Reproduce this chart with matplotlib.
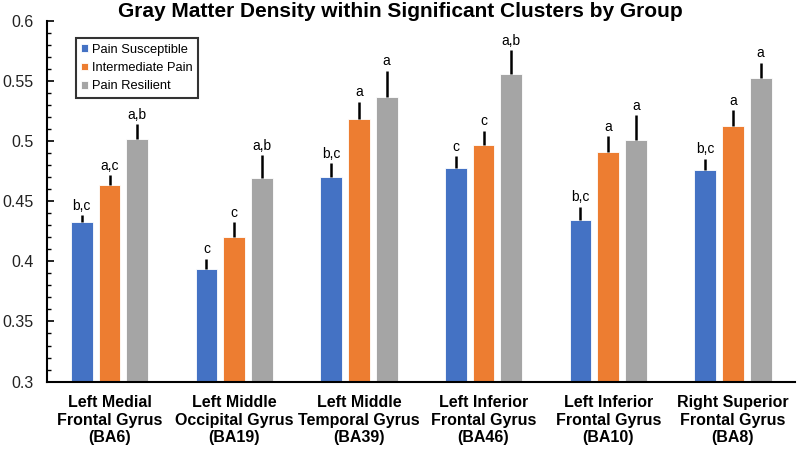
import matplotlib
matplotlib.use("Agg")
import matplotlib.pyplot as plt
import numpy as np
from matplotlib.ticker import MultipleLocator

plt.rcParams['font.family'] = ['Liberation Sans', 'DejaVu Sans']

categories = ["Left Medial\nFrontal Gyrus\n(BA6)", "Left Middle\nOccipital Gyrus\n(BA19)",
              "Left Middle\nTemporal Gyrus\n(BA39)", "Left Inferior\nFrontal Gyrus\n(BA46)",
              "Left Inferior\nFrontal Gyrus\n(BA10)", "Right Superior\nFrontal Gyrus\n(BA8)"]
series_names = ["Pain Susceptible", "Intermediate Pain", "Pain Resilient"]
susceptible = [0.4325, 0.3934, 0.4704, 0.4776, 0.4341, 0.4757]
intermediate = [0.4635, 0.4205, 0.5186, 0.4965, 0.4906, 0.5125]
resilient = [0.5014, 0.4695, 0.5366, 0.5560, 0.5006, 0.5526]
err_susceptible = [0.0060, 0.0088, 0.0111, 0.0097, 0.0113, 0.0096]
err_intermediate = [0.0083, 0.0120, 0.0141, 0.0121, 0.0136, 0.0130]
err_resilient = [0.0128, 0.0189, 0.0219, 0.0197, 0.0210, 0.0125]
labels_susceptible = ["b,c", "c", "b,c", "c", "b,c", "b,c"]
labels_intermediate = ["a,c", "c", "a", "c", "a", "a"]
labels_resilient = ["a,b", "a,b", "a", "a,b", "a", "a"]

colors = ["#4472C4", "#ED7D31", "#A5A5A5"]

fig = plt.figure(figsize=(8, 4.5), dpi=100)
ax = fig.add_axes([0.059, 0.152, 0.935, 0.802])

x = np.arange(len(categories))
width = 0.174
step = 0.223
data = [susceptible, intermediate, resilient]
errs = [err_susceptible, err_intermediate, err_resilient]
labs = [labels_susceptible, labels_intermediate, labels_resilient]
for i in range(3):
    pos = x + (i - 1) * step
    ax.bar(pos, data[i], width, bottom=0, color=colors[i], edgecolor="white",
           linewidth=0.6, label=series_names[i], zorder=2)
    ax.errorbar(pos, data[i], yerr=[np.zeros(len(x)), errs[i]], fmt="none",
                ecolor="black", elinewidth=1.8, capsize=0, zorder=3)
    for p, v, e, t in zip(pos, data[i], errs[i], labs[i]):
        ax.text(p, v + e + 0.002, t, ha="center", va="bottom", fontsize=10,
                color="black", zorder=4)

ax.set_ylim(0.3, 0.6)
ax.set_xlim(-0.5, len(categories) - 0.5)
ax.yaxis.set_minor_locator(MultipleLocator(0.01))
ax.set_yticks([0.3, 0.35, 0.4, 0.45, 0.5, 0.55, 0.6])
ax.set_yticklabels(["0.3", "0.35", "0.4", "0.45", "0.5", "0.55", "0.6"])
ax.tick_params(axis="y", which="major", direction="in", length=5, width=1.2,
               labelsize=11.5, pad=10, colors="black", labelcolor="#222222")
ax.tick_params(axis="y", which="minor", direction="in", length=3, width=1.0)
ax.set_xticks(x)
ax.set_xticklabels(categories, fontsize=11.5, fontweight="bold", linespacing=1.2)
ax.tick_params(axis="x", length=0, pad=10)

for s in ["top", "right"]:
    ax.spines[s].set_visible(False)
ax.spines["left"].set_linewidth(1.5)
ax.spines["bottom"].set_linewidth(1.5)

fig.suptitle("Gray Matter Density within Significant Clusters by Group",
             fontsize=15, fontweight="bold", x=0.5, y=0.995, va="top")

leg = ax.legend(loc="upper left", bbox_to_anchor=(0.038, 0.951), fontsize=9.3,
                frameon=True, fancybox=False, handlelength=0.55, handleheight=0.55,
                handletextpad=0.3, borderpad=0.4, labelspacing=0.5, borderaxespad=0)
leg.get_frame().set_edgecolor("black")
leg.get_frame().set_linewidth(1.5)

fig.savefig("out.png", dpi=100)
